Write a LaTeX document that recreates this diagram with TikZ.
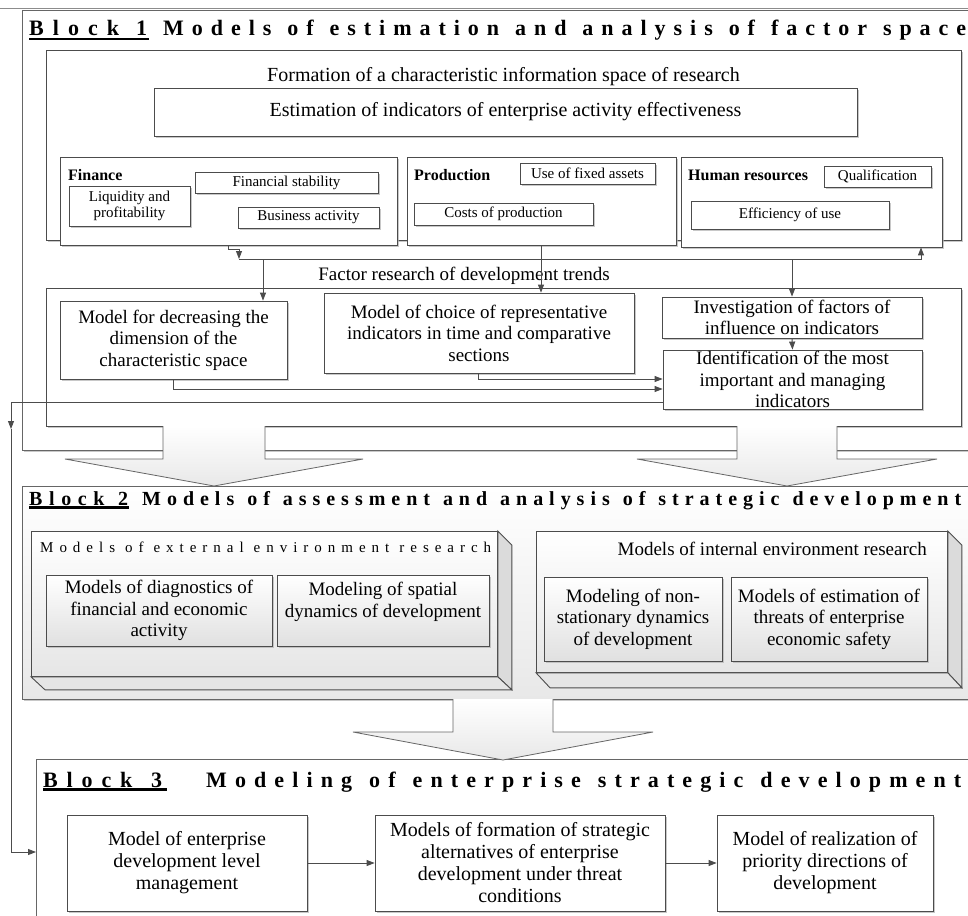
\documentclass[tikz,border=0pt]{standalone}
\usepackage{fontspec}
\setmainfont{Liberation Serif}
\makeatletter
\def\swA#1{#1\swB}
\def\swB#1{\ifx#1\@nil\else\hfill#1\expandafter\swB\fi}
\newcommand\sw[1]{\swA#1\@nil}
\makeatother
\newcommand\gapw[1]{\hfill\hspace*{#1pt}}
\newcommand\spread[2]{\makebox[#1pt][s]{#2}}
\usetikzlibrary{arrows.meta,shadows,calc}
\tikzset{
  ln/.style={draw=black!70, line width=0.9pt},
  arr/.style={ln, -{Triangle[length=8pt,width=6pt]}},
  shad/.style={drop shadow={shadow xshift=1.8pt, shadow yshift=-1.8pt, fill=black!30, opacity=0.7}},
  box/.style={draw=black!70, line width=0.8pt, fill=white, align=center, shad},
  gbox/.style={draw=black!70, line width=0.8pt, top color=white, bottom color=black!12, align=center, shad},
  blk/.style={draw=black!60, line width=0.8pt, fill=white, shad},
  blk2/.style={draw=black!60, line width=0.8pt, top color=white, bottom color=black!9, shad},
  barrow/.style={draw=black!60, line width=0.8pt, top color=white, bottom color=black!9},
  fA/.style={font=\fontsize{20}{22}\selectfont},
  fB/.style={font=\fontsize{19}{21.5}\selectfont},
  sm/.style={font=\fontsize{15}{16.5}\selectfont},
  lbl/.style={font=\bfseries\fontsize{16}{18}\selectfont},
  ttlA/.style={font=\bfseries\fontsize{22}{24}\selectfont},
  ttlB/.style={font=\bfseries\fontsize{20}{24}\selectfont},
  extf/.style={font=\fontsize{15}{17}\selectfont},
  ul/.style={draw=black, line width=2.2pt},
}
\begin{document}
\begin{tikzpicture}[x=1pt,y=-1pt, every node/.style={inner sep=0pt}]
\useasboundingbox (0,0) rectangle (968,915);
\clip (0,0) rectangle (968,915);
\fill[white] (0,0) rectangle (968,915);
\coordinate (tl) at (0,8);
\coordinate (tr) at (968,8);
\draw[draw=black!45, line width=0.8pt] (tl) -- (tr);

% ---------------- Block 1
\node[blk, minimum width=960pt, minimum height=440pt, anchor=north west] (b1) at (22,10) {};
\node[ttlA, anchor=base west] (b1k) at (29,36) {\spread{118}{\sw{Block}\gapw{8}1}};
\draw[ul] ([yshift=-3pt]b1k.base west) -- ([yshift=-3pt,xshift=2pt]b1k.base east);
\node[ttlA, anchor=base west] (b1t) at (163,36) {\spread{803}{\sw{Models}\gapw{8}\sw{of}\gapw{8}\sw{estimation}\gapw{8}\sw{and}\gapw{8}\sw{analysis}\gapw{8}\sw{of}\gapw{8}\sw{factor}\gapw{8}\sw{space}}};

\node[box, minimum width=915pt, minimum height=190pt] (c1) at (503.5,145) {};
\node[fA, anchor=base] (tform) at (503.5,82) {Formation of a characteristic information space of research};
\node[box, fA, minimum width=703pt, minimum height=48pt] (est) at (505.5,112) {Estimation of indicators of enterprise activity effectiveness};

\node[box, minimum width=337pt, minimum height=88pt] (fin) at (228.5,201) {};
\node[lbl, anchor=base west] (finl) at (68,180) {Finance};
\node[box, sm, minimum width=183pt, minimum height=21pt] (fs) at (286.5,182.5) {Financial stability};
\node[box, sm, minimum width=121pt, minimum height=40pt] (lp) at (129.5,206) {Liquidity and\\profitability};
\node[box, sm, minimum width=141pt, minimum height=21pt] (ba) at (308.5,217.5) {Business activity};

\node[box, minimum width=269pt, minimum height=88pt] (pr) at (541.5,201) {};
\node[lbl, anchor=base west] (prl) at (414,180) {Production};
\node[box, sm, minimum width=135pt, minimum height=21pt] (ufa) at (587.5,173.5) {Use of fixed assets};
\node[box, sm, minimum width=179pt, minimum height=22pt] (cp) at (503.5,214) {Costs of production};

\node[box, minimum width=261pt, minimum height=90pt] (hr) at (811.5,202) {};
\node[lbl, anchor=base west] (hrl) at (688,180) {Human resources};
\node[box, sm, minimum width=107pt, minimum height=21pt] (q) at (877.5,176.5) {Qualification};
\node[box, sm, minimum width=198pt, minimum height=28pt] (eu) at (790,215) {Efficiency of use};

% factor research container
\node[box, minimum width=915pt, minimum height=138pt] (c2) at (503.5,357) {};
\node[fB, anchor=base] (tfac) at (464,280) {Factor research of development trends};
\node[box, fB, minimum width=227pt, minimum height=78pt] (mdec) at (173.5,340) {Model for decreasing the\\dimension of the\\characteristic space};
\node[box, fB, minimum width=310pt, minimum height=80pt] (mch) at (479,333) {Model of choice of representative\\indicators in time and comparative\\sections};
\node[box, fB, minimum width=260pt, minimum height=41pt] (inv) at (792,317.5) {Investigation of factors of\\influence on indicators};
\node[box, fB, minimum width=259pt, minimum height=59pt] (idf) at (792.5,379.5) {Identification of the most\\important and managing\\indicators};

% connectors block 1
\coordinate (busL) at (239,259);
\coordinate (busR) at (921,259);
\draw[arr] (fin.south -| 228,0) -- ++(0,4) -| (busL);
\draw[arr] (busL) -| (hr.south -| busR);
\draw[arr] (263,259) -- (mdec.north -| 263,0);
\draw[arr] (pr.south -| 541,0) -- (mch.north -| 541,0);
\draw[arr] (busL -| inv.north) -- (inv.north);
\draw[arr] (inv.south) -- (idf.north);
\draw[arr] (mch.south -| 478,0) |- (idf.west |- 0,379);
\draw[arr] (mdec.south) |- (idf.west |- 0,389);

% ---------------- Block 2
\node[blk2, minimum width=960pt, minimum height=213pt, anchor=north west] (b2) at (22,486) {};
\path[barrow] (163,426) -- (163,459) -- (65,459) -- (214,486) -- (363,459) -- (265,459) -- (265,426);
\path[barrow] (737,426) -- (737,459) -- (637,459) -- (787,486) -- (937,459) -- (837,459) -- (837,426);

\node[ttlB, anchor=base west] (b2k) at (29,505) {\spread{99}{\sw{Block}\gapw{7}2}};
\draw[ul] ([yshift=-2.5pt]b2k.base west) -- ([yshift=-2.5pt,xshift=1pt]b2k.base east);
\node[ttlB, anchor=base west] (b2t) at (142,505) {\spread{819}{\sw{Models}\gapw{7}\sw{of}\gapw{7}\sw{assessment}\gapw{7}\sw{and}\gapw{7}\sw{analysis}\gapw{7}\sw{of}\gapw{7}\sw{strategic}\gapw{7}\sw{development}}};

% external 3D box
\node[draw=black!70, line width=0.8pt, top color=white, bottom color=black!10, minimum width=466pt, minimum height=145pt, anchor=north west] (ext) at (31,531) {};
\draw[ln, fill=black!14] (ext.north east) -- ++(14,14) -- ($(ext.south east)+(14,13)$) -- (ext.south east) -- cycle;
\draw[ln, fill=black!10] (ext.south west) -- ($(ext.south west)+(14,13)$) -- ($(ext.south east)+(14,13)$) -- (ext.south east) -- cycle;
\node[extf, anchor=base west] (extl) at (40,552) {\spread{451}{\sw{Models}\gapw{4}\sw{of}\gapw{4}\sw{external}\gapw{4}\sw{environment}\gapw{4}\sw{research}}};
\node[gbox, fB, minimum width=226pt, minimum height=71pt] (diag) at (159,610.5) {Models of diagnostics of\\financial and economic\\activity};
\node[gbox, fB, minimum width=212pt, minimum height=71pt] (spat) at (383,610.5) {Modeling of spatial\\dynamics of development\\ };

% internal 3D box
\node[draw=black!70, line width=0.8pt, top color=white, bottom color=black!10, minimum width=411pt, minimum height=141pt, anchor=north west] (int) at (536,531) {};
\draw[ln, fill=black!14] (int.north east) -- ++(14,14) -- ($(int.south east)+(14,15)$) -- (int.south east) -- cycle;
\draw[ln, fill=black!10] (int.south west) -- ($(int.south west)+(14,15)$) -- ($(int.south east)+(14,15)$) -- (int.south east) -- cycle;
\node[fB, anchor=base east] (intl) at (927,555) {Models of internal environment research};
\node[gbox, fB, minimum width=178pt, minimum height=84pt] (nsd) at (633,619) {Modeling of non-\\stationary dynamics\\of development};
\node[gbox, fB, minimum width=196pt, minimum height=84pt] (thr) at (829,619) {Models of estimation of\\threats of enterprise\\economic safety};

% ---------------- Block 3
\node[blk, minimum width=950pt, minimum height=170pt, anchor=north west] (b3) at (36,759) {};
\path[barrow] (453,699) -- (453,732) -- (353,732) -- (503,760) -- (653,732) -- (553,732) -- (553,699);
\node[ttlA, anchor=base west] (b3k) at (43,787) {\spread{119}{\sw{Block}\gapw{10}3}};
\draw[ul] ([yshift=-2.5pt]b3k.base west) -- ([yshift=-2.5pt,xshift=5pt]b3k.base east);
\node[ttlA, anchor=base west] (b3t) at (206,787) {\spread{755}{\sw{Modeling}\gapw{9}\sw{of}\gapw{9}\sw{enterprise}\gapw{9}\sw{strategic}\gapw{9}\sw{development}}};

\node[box, fA, minimum width=240pt, minimum height=96pt] (m1) at (187,863) {Model of enterprise\\development level\\management};
\node[box, fA, minimum width=290pt, minimum height=96pt] (m2) at (520,863) {Models of formation of strategic\\alternatives of enterprise\\development under threat\\conditions};
\node[box, fA, minimum width=216pt, minimum height=96pt] (m3) at (825,863) {Model of realization of\\priority directions of\\development};
\draw[arr] (m1.east) -- (m2.west);
\draw[arr] (m2.east) -- (m3.west);

% feedback
\coordinate (fbA) at (11,402);
\coordinate (fbM) at (11,429);
\coordinate (fbB) at (11,852);
\draw[arr] (idf.west |- fbA) -- (fbA) -- (fbM);
\draw[arr] (fbM) -- (fbB) -- (b3.west |- fbB);
\end{tikzpicture}
\end{document}
